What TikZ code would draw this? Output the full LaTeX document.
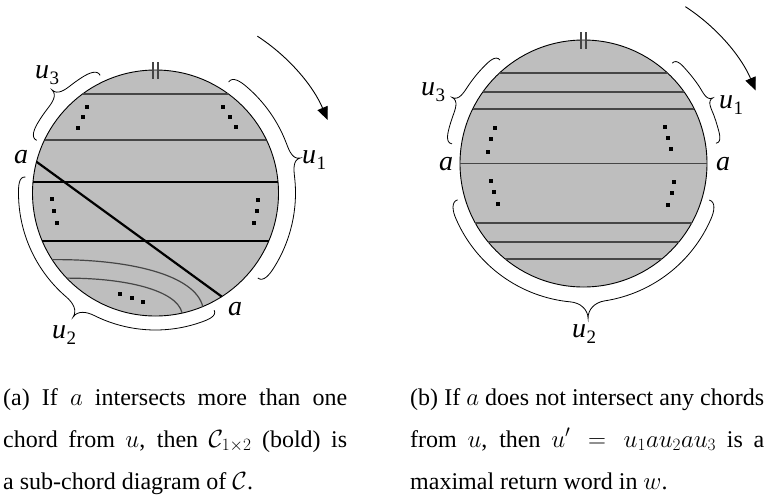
\documentclass[tikz,border=0pt]{standalone}
\usepackage[no-math]{fontspec}
\setmainfont{Liberation Serif}
\usetikzlibrary{calc,arrows.meta}
\definecolor{diskgray}{RGB}{190,190,190}
\definecolor{chordgray}{RGB}{70,70,70}
\newcommand{\lab}[2]{\textit{#1}\kern0.5pt\raisebox{-6pt}{\fontsize{19}{19}\selectfont #2}}
\newcommand{\arcbrace}[7]{%
 \pgfmathsetmacro\bA{#2}\pgfmathsetmacro\bM{#3}\pgfmathsetmacro\bB{#4}%
 \pgfmathsetmacro\bAi{\bA+7}\pgfmathsetmacro\bAin{\bA+7-90}%
 \pgfmathsetmacro\bMo{\bM-7}\pgfmathsetmacro\bMoout{\bM-7+90}\pgfmathsetmacro\bMin{\bM+180}%
 \pgfmathsetmacro\bMi{\bM+7}\pgfmathsetmacro\bMiin{\bM+7-90}%
 \pgfmathsetmacro\bBo{\bB-7}\pgfmathsetmacro\bBoout{\bB-7+90}%
 \draw[bracest] ($(#1)+(\bA:#5)$) to[out=\bA,in=\bAin] ($(#1)+(\bAi:#6)$)
   arc[start angle=\bAi,end angle=\bMo,radius=#6pt]
   to[out=\bMoout,in=\bMin] ($(#1)+(\bM:#7)$)
   to[out=\bMin,in=\bMiin] ($(#1)+(\bMi:#6)$)
   arc[start angle=\bMi,end angle=\bBo,radius=#6pt]
   to[out=\bBoout,in=\bB] ($(#1)+(\bB:#5)$);
}
\tikzset{
  disk/.style={circle,draw=black,fill=diskgray,inner sep=0pt,outer sep=0pt,line width=0.9pt},
  thinchord/.style={draw=chordgray,line width=1.2pt},
  boldchord/.style={draw=black,line width=2.2pt},
  bracest/.style={draw=black,line width=0.8pt},
  markst/.style={draw=chordgray,line width=1.5pt},
  rotarrow/.style={draw=black,line width=0.9pt,-{Triangle[length=13pt,width=11pt]}},
  dotsq/.style={fill=black},
  labnode/.style={anchor=base west,inner sep=0pt,font=\fontsize{28}{28}\selectfont},
  capnode/.style={anchor=base west,inner sep=0pt,font=\fontsize{24}{42}\selectfont}
}
\newcommand{\sqdot}[2]{\fill[dotsq] (#1-1.8,#2-1.8) rectangle (#1+1.8,#2+1.8);}
\begin{document}
\begin{tikzpicture}[x=1pt,y=1pt]
\useasboundingbox (0,0) rectangle (766,-498);
% ---------------- left diagram ----------------
\node[disk,minimum size=246pt] (L) at (155.5,-193) {};
\foreach \h/\st in {99/thinchord,53/thinchord,11/boldchord,-48/boldchord}{
  \pgfmathsetmacro\t{asin(\h/123)}
  \draw[\st] ($(L)+(\t:123)$) -- ($(L)+({180-\t}:123)$);
}
\draw[thinchord] ($(L)+(212.8:123)$) .. controls (130,-259) and (195,-275) .. ($(L)+(-67.4:123)$);
\draw[thinchord] ($(L)+(223.8:123)$) .. controls (125,-278) and (177,-290) .. ($(L)+(-77.5:123)$);
\draw[boldchord] ($(L)+(165.3:123)$) -- ($(L)+(-57.4:123)$);
\draw[markst] ($(L.north)+(-2.3,8)$) -- ++(0,-17);
\draw[markst] ($(L.north)+(2.3,8)$) -- ++(0,-17);
\foreach \x/\y in {87/107,83/117,78/128,223/107,230/117,236/127,52/199,54/211,57/223,258/200,257/211,254/223,120/294,132/298,143/302}{
  \sqdot{\x}{-\y}
}
\arcbrace{L}{115.2}{135.1}{156.1}{130}{137}{146}
\arcbrace{L}{-39.7}{13.6}{56.6}{133}{140}{149}
\arcbrace{L}{173}{236.4}{296.6}{131}{137}{149}
\draw[rotarrow] ($(L)+(57:187)$) arc[start angle=57,end angle=23,radius=187pt];
\node[labnode] (lu3) at (35,-78) {\lab{u}{3}};
\node[labnode] (la1) at (14,-163) {\textit{a}};
\node[labnode] (lu1) at (302,-163) {\lab{u}{1}};
\node[labnode] (la2) at (228,-315) {\textit{a}};
\node[labnode] (lu2) at (52,-338) {\lab{u}{2}};
% ---------------- right diagram ----------------
\node[disk,minimum size=247pt] (R) at (583.5,-163.5) {};
\foreach \h in {90.5,71.5,54.5,0,-59.5,-78.5,-95.5}{
  \pgfmathsetmacro\t{asin(\h/123.5)}
  \draw[thinchord] ($(R)+(\t:123.5)$) -- ($(R)+({180-\t}:123.5)$);
}
\draw[markst] ($(R.north)+(-2.3,8)$) -- ++(0,-17);
\draw[markst] ($(R.north)+(2.3,8)$) -- ++(0,-17);
\foreach \x/\y in {495/128,491/139,488/152,491/181,494/192,498/204,665/127,668/138,671/149,674/182,672/193,668/205}{
  \sqdot{\x}{-\y}
}
\arcbrace{R}{128.9}{153.3}{171.5}{133}{139}{147}
\arcbrace{R}{8.7}{26.9}{48.5}{134}{139}{145}
\arcbrace{R}{196.1}{271.7}{343.8}{131}{139}{155}
\draw[rotarrow] ($(R)+(57:187)$) arc[start angle=57,end angle=23,radius=187pt];
\node[labnode] (ru3) at (421,-95) {\lab{u}{3}};
\node[labnode] (ru1) at (719,-108) {\lab{u}{1}};
\node[labnode] (ra1) at (439,-170) {\textit{a}};
\node[labnode] (ra2) at (716,-170) {\textit{a}};
\node[labnode] (ru2) at (572,-337) {\lab{u}{2}};
% ---------------- captions ----------------
\node[capnode] (capa1) at (3,-405) {\makebox[344pt][s]{(a) If $a$ intersects more than one}};
\node[capnode] (capa2) at (3,-447) {\makebox[344pt][s]{chord from $u$, then $\mathcal{C}_{1\times 2}$ (bold) is}};
\node[capnode] (capa3) at (3,-489) {a sub-chord diagram of $\mathcal{C}$.};
\node[capnode] (capb1) at (410,-405) {\makebox[354pt][s]{(b) If $a$ does not intersect any chords}};
\node[capnode] (capb2) at (410,-447) {\makebox[354pt][s]{from $u$, then $u' = u_1au_2au_3$ is a}};
\node[capnode] (capb3) at (410,-489) {maximal return word in $w$.};
\end{tikzpicture}
\end{document}
